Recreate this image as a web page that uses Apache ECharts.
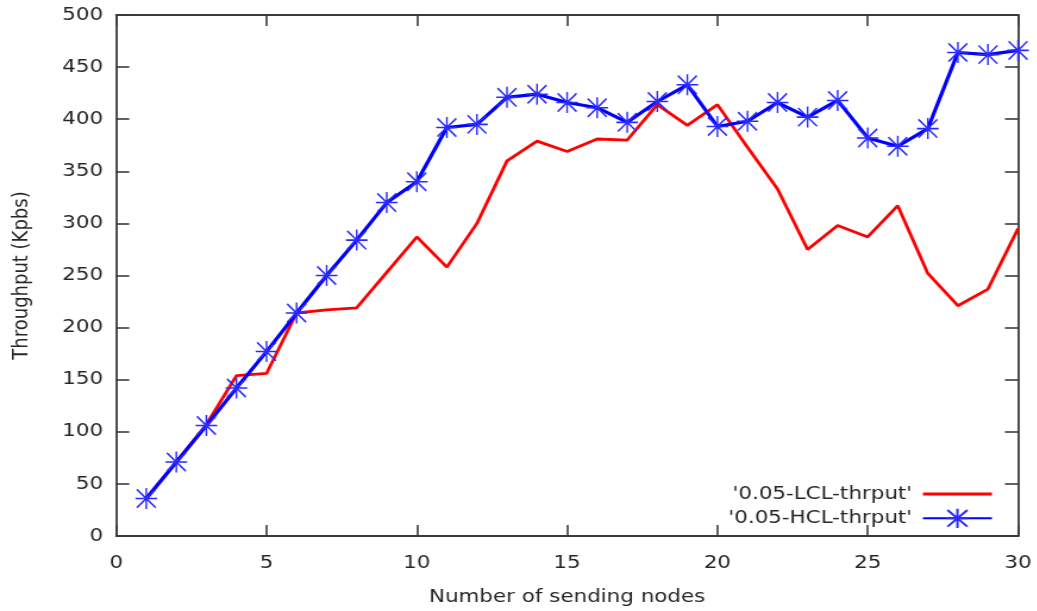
<!DOCTYPE html>
<html>
<head>
<meta charset="utf-8">
<title>Throughput vs number of sending nodes</title>
<script src="https://cdn.jsdelivr.net/npm/echarts@6/dist/echarts.min.js"></script>
<style>
  html, body { margin: 0; padding: 0; background: #ffffff; overflow: hidden; }
  #wrap { width: 1037px; height: 611px; overflow: hidden; }
  /* the plot is laid out at a narrower width and widened horizontally */
  #chart { height: 611px; transform-origin: 0 0; }
</style>
</head>
<body>
<div id="wrap"><div id="chart"></div></div>
<script>
// Number of sending nodes
const nodes = [1, 2, 3, 4, 5, 6, 7, 8, 9, 10,
               11, 12, 13, 14, 15, 16, 17, 18, 19, 20,
               21, 22, 23, 24, 25, 26, 27, 28, 29, 30];

// Throughput (Kpbs), low-confidence-limit run
const lclThrput = [36, 71, 107, 154, 156, 214, 217, 219, 253, 287,
                   258, 300, 360, 379, 369, 381, 380, 414, 394, 414,
                   373, 333, 275, 298, 287, 317, 252, 221, 237, 295];

// Throughput (Kpbs), high-confidence-limit run
const hclThrput = [36, 71, 106, 142, 177, 214, 250, 284, 320, 340,
                   392, 395, 421, 424, 416, 411, 397, 417, 433, 393,
                   398, 416, 402, 418, 382, 374, 391, 464, 462, 466];

const seriesNames = ["'0.05-LCL-thrput'", "'0.05-HCL-thrput'"];
const xName = 'Number of sending nodes';
const yName = 'Throughput (Kpbs)';

const STRETCH = 1.19;
const W = 1037 / STRETCH;
const el = document.getElementById('chart');
el.style.width = W + 'px';
el.style.transform = 'scaleX(' + STRETCH + ')';

const FONT = '"DejaVu Sans", Verdana, sans-serif';
const TXT = '#262626';
const FRAME = '#3a3a3a';

// asterisk point: a plus and a cross overlaid
const starPath = 'path://M0,-10L0,10M-10,0L10,0M-8.7,-8.7L8.7,8.7M-8.7,8.7L8.7,-8.7';
// legend key for the plain red line: a thin horizontal bar
const barKey = 'path://M0,0L58,0L58,2.8L0,2.8Z';

const pair = (xs, ys) => xs.map((x, i) => [x, ys[i]]);

const axisCommon = () => ({
  type: 'value',
  axisLine: { show: true, onZero: false, lineStyle: { color: FRAME, width: 1.8 } },
  axisTick: { show: true, inside: true, length: 11, lineStyle: { color: FRAME, width: 1.6 } },
  splitLine: { show: false }
});

const chart = echarts.init(el, null, { renderer: 'canvas' });
chart.setOption({
  animation: false,
  backgroundColor: '#ffffff',
  grid: { left: 97.65, right: W - 855.9, top: 15, bottom: 75, containLabel: false },
  xAxis: [
    Object.assign(axisCommon(), {
      position: 'bottom', min: 0, max: 30, interval: 5,
      name: xName, nameLocation: 'middle', nameGap: 52,
      nameTextStyle: { fontFamily: FONT, fontSize: 18, color: TXT },
      axisLabel: { fontFamily: FONT, fontSize: 18, color: TXT, margin: 18 }
    }),
    Object.assign(axisCommon(), {
      position: 'top', min: 0, max: 30, interval: 5,
      axisLabel: { show: false }
    })
  ],
  yAxis: [
    Object.assign(axisCommon(), {
      position: 'left', min: 0, max: 500, interval: 50,
      name: yName, nameLocation: 'middle', nameGap: 70, nameRotate: 90,
      nameTextStyle: { fontFamily: FONT, fontSize: 18, color: TXT },
      axisLabel: { fontFamily: FONT, fontSize: 18, color: TXT, margin: 11 }
    }),
    Object.assign(axisCommon(), {
      position: 'right', min: 0, max: 500, interval: 50,
      axisLabel: { show: false }
    })
  ],
  legend: {
    orient: 'vertical',
    right: W - 840,
    top: 477,
    align: 'right',
    itemWidth: 58,
    itemHeight: 24,
    itemGap: 0.3,
    selectedMode: false,
    textStyle: { fontFamily: FONT, fontSize: 18, color: TXT, lineHeight: 24, padding: [0, 4, 0, 0] },
    data: [{ name: seriesNames[0], icon: barKey }, { name: seriesNames[1] }]
  },
  series: [
    {
      name: seriesNames[0],
      type: 'line',
      data: pair(nodes, lclThrput),
      symbol: 'none',
      color: '#ff0000',
      lineStyle: { color: '#ff0000', width: 2.8 },
      emphasis: { disabled: true },
      z: 2
    },
    {
      name: seriesNames[1],
      type: 'line',
      data: pair(nodes, hclThrput),
      symbol: starPath,
      symbolSize: [18.2, 21],
      showAllSymbol: true,
      color: '#0000ff',
      lineStyle: { color: '#0000ff', width: 3.2 },
      itemStyle: { color: '#2020ff', borderColor: '#2a2aff', borderWidth: 1.5 },
      emphasis: { disabled: true },
      z: 3
    }
  ]
});
</script>
</body>
</html>
